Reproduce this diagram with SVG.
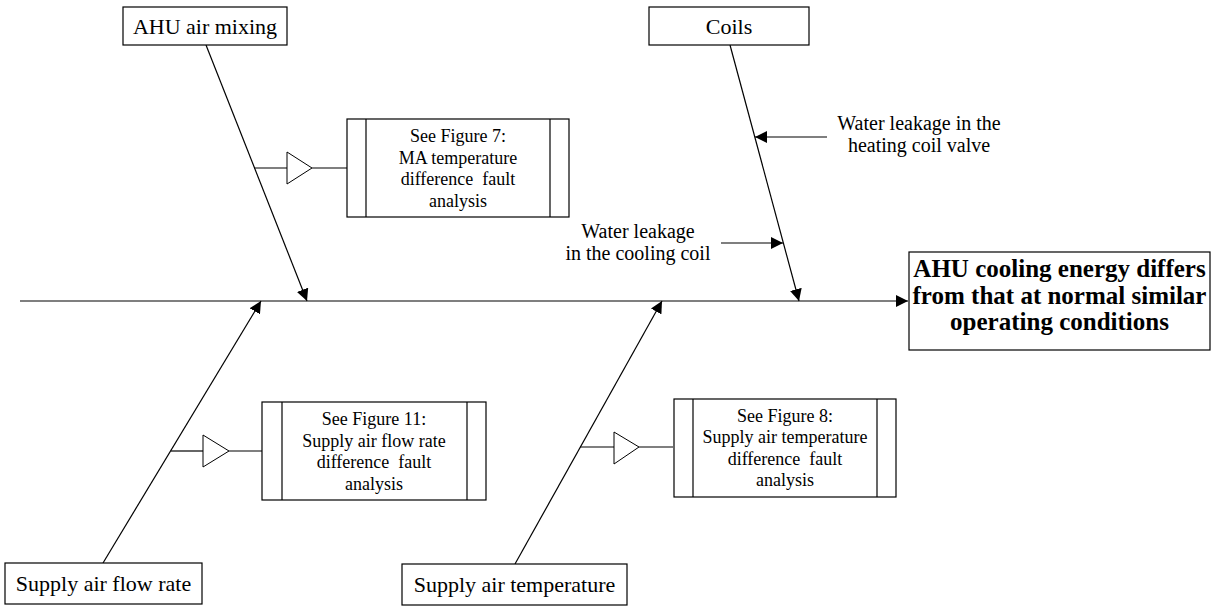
<svg xmlns="http://www.w3.org/2000/svg" width="1225" height="606" viewBox="0 0 1225 606">
<style>
.box{fill:#fff;stroke:#000;stroke-width:1.2}
.ln{fill:none;stroke:#000;stroke-width:1.2}
.tri{fill:#fff;stroke:#000;stroke-width:1}
.lbl{font-family:"Liberation Serif","Times New Roman",serif;font-size:22px;fill:#000;text-anchor:middle}
.sm{font-family:"Liberation Serif","Times New Roman",serif;font-size:18px;fill:#000;text-anchor:middle;white-space:pre}
.note{font-family:"Liberation Serif","Times New Roman",serif;font-size:20px;fill:#000;text-anchor:middle}
.big{font-family:"Liberation Serif","Times New Roman",serif;font-size:25px;font-weight:bold;fill:#000;text-anchor:middle}
</style>
<defs>
<marker id="ah" markerUnits="userSpaceOnUse" markerWidth="13" markerHeight="12" refX="12" refY="6" orient="auto">
<path d="M0,0 L12,6 L0,12 z" fill="#000"/>
</marker>
</defs>
<rect width="1225" height="606" fill="#fff"/>
<g id="connectors">
<line class="ln" x1="20" y1="301" x2="908" y2="301" marker-end="url(#ah)"/>
<line class="ln" x1="206" y1="45" x2="307" y2="301" marker-end="url(#ah)"/>
<line class="ln" x1="730" y1="45" x2="799" y2="301" marker-end="url(#ah)"/>
<line class="ln" x1="103" y1="563" x2="261" y2="301" marker-end="url(#ah)"/>
<line class="ln" x1="515" y1="564" x2="662" y2="301" marker-end="url(#ah)"/>
<line class="ln" x1="827" y1="137" x2="755" y2="137" marker-end="url(#ah)"/>
<line class="ln" x1="721" y1="243" x2="783" y2="243" marker-end="url(#ah)"/>
<polyline class="ln" points="254,168 287,168"/>
<polygon class="tri" points="287,152 287,184 312,168"/>
<polyline class="ln" points="312,168 347,168"/>
<polyline class="ln" points="171,451 203,451"/>
<polygon class="tri" points="203,435 203,467 229,451"/>
<polyline class="ln" points="229,451 262,451"/>
<polyline class="ln" points="580,447 614,447"/>
<polygon class="tri" points="614,432 614,464 639,447"/>
<polyline class="ln" points="639,447 673,447"/>
</g>
<g id="ahu-air-mixing">
<rect class="box" x="123" y="7" width="164" height="38"/>
<text class="lbl" x="205" y="34">AHU air mixing</text>
</g>
<g id="coils">
<rect class="box" x="649" y="7" width="160" height="38"/>
<text class="lbl" x="729" y="34">Coils</text>
</g>
<g id="supply-air-flow-rate">
<rect class="box" x="5" y="563" width="197" height="41"/>
<text class="lbl" x="103.5" y="591">Supply air flow rate</text>
</g>
<g id="supply-air-temperature">
<rect class="box" x="402" y="564" width="225" height="41"/>
<text class="lbl" x="514.5" y="592">Supply air temperature</text>
</g>
<g id="result">
<rect class="box" x="909" y="252" width="301" height="98"/>
<text class="big" x="1059.5" y="277">AHU cooling energy differs</text>
<text class="big" x="1059.5" y="303.5">from that at normal similar</text>
<text class="big" x="1059.5" y="330">operating conditions</text>
</g>
<g id="fig7">
<rect class="box" x="347" y="119" width="222" height="98"/>
<line class="ln" x1="366" y1="119" x2="366" y2="217"/>
<line class="ln" x1="550" y1="119" x2="550" y2="217"/>
<text class="sm" x="458" y="142" xml:space="preserve">See Figure 7:</text>
<text class="sm" x="458" y="163.5" xml:space="preserve">MA temperature</text>
<text class="sm" x="458" y="185" xml:space="preserve">difference  fault</text>
<text class="sm" x="458" y="206.5" xml:space="preserve">analysis</text>
</g>
<g id="fig11">
<rect class="box" x="262" y="402" width="224" height="98"/>
<line class="ln" x1="282" y1="402" x2="282" y2="500"/>
<line class="ln" x1="467" y1="402" x2="467" y2="500"/>
<text class="sm" x="374" y="425" xml:space="preserve">See Figure 11:</text>
<text class="sm" x="374" y="446.5" xml:space="preserve">Supply air flow rate</text>
<text class="sm" x="374" y="468" xml:space="preserve">difference  fault</text>
<text class="sm" x="374" y="489.5" xml:space="preserve">analysis</text>
</g>
<g id="fig8">
<rect class="box" x="674" y="399" width="222" height="98"/>
<line class="ln" x1="693" y1="399" x2="693" y2="497"/>
<line class="ln" x1="877" y1="399" x2="877" y2="497"/>
<text class="sm" x="785" y="421.5" xml:space="preserve">See Figure 8:</text>
<text class="sm" x="785" y="443" xml:space="preserve">Supply air temperature</text>
<text class="sm" x="785" y="464.5" xml:space="preserve">difference  fault</text>
<text class="sm" x="785" y="486" xml:space="preserve">analysis</text>
</g>
<g id="heating-leak">
<text class="note" x="919" y="130">Water leakage in the</text>
<text class="note" x="919" y="152">heating coil valve</text>
</g>
<g id="cooling-leak">
<text class="note" x="638" y="238">Water leakage</text>
<text class="note" x="638" y="259.5">in the cooling coil</text>
</g>
</svg>
